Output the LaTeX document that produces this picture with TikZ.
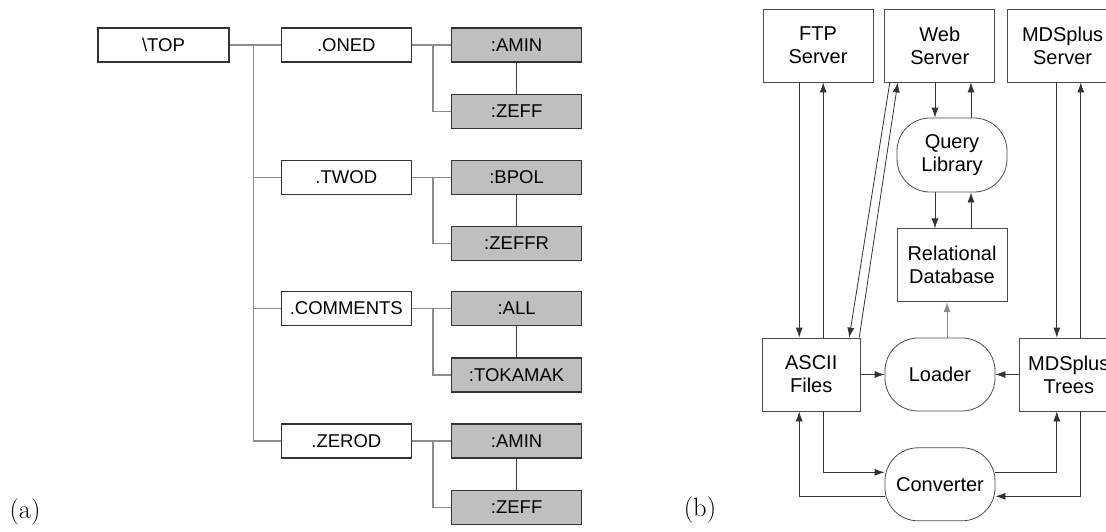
\documentclass[tikz,border=0pt]{standalone}
\usepackage{fontspec}
\newfontfamily\fuente{Liberation Sans}
\usetikzlibrary{
	arrows.meta,
	positioning,
	calc
}

\begin{document}
\begin{tikzpicture}[x=1pt, y=-1pt,
  nodo/.style={rectangle, draw=black!80, line width=1.3pt, fill=white,
    minimum width=130pt, minimum height=34pt, inner sep=0pt,
    font=\fuente\fontsize{18.5}{20}\selectfont},
  hoja/.style={nodo, fill=black!25},
  rama/.style={draw=black!45, line width=1.4pt},
  enlace/.style={draw=black!75, line width=1.1pt},
  caja/.style={rectangle, draw=black!70, line width=0.8pt, align=center,
    minimum width=110pt, minimum height=73pt, inner sep=0pt,
    font=\fuente\fontsize{20}{23}\selectfont},
  ovalo/.style={caja, rounded corners=33pt},
  flecha/.style={-{Latex[length=10pt, width=7pt]}, draw=black!80, line width=0.8pt}
]
\useasboundingbox (0,0) rectangle (1106,531);

% (a) arbol
\node[nodo, minimum width=131pt] (top) at (163.5,45) {\textbackslash TOP};
\node[nodo, right=51pt of top] (oned) {.ONED};
\node[nodo, below=97pt of oned] (twod) {.TWOD};
\node[nodo, below=96pt of twod] (comments) {.COMMENTS};
\node[nodo, below=97pt of comments] (zerod) {.ZEROD};
\node[hoja, right=39pt of oned] (amin1) {:AMIN};
\node[hoja, below=31pt of amin1] (zeff1) {:ZEFF};
\node[hoja, right=39pt of twod] (bpol) {:BPOL};
\node[hoja, below=31pt of bpol] (zeffr) {:ZEFFR};
\node[hoja, right=39pt of comments] (all) {:ALL};
\node[hoja, below=31pt of all] (tokamak) {:TOKAMAK};
\node[hoja, right=39pt of zerod] (amin2) {:AMIN};
\node[hoja, below=31pt of amin2] (zeff2) {:ZEFF};

\coordinate (tronco) at ($(top.east)+(24,0)$);
\draw[rama] (top) -- (oned);
\draw[rama] (tronco) |- (zerod);
\foreach \n in {twod, comments}
  \draw[rama] (tronco |- \n) -- (\n);
\foreach \p/\a/\b in {oned/amin1/zeff1, twod/bpol/zeffr, comments/all/tokamak, zerod/amin2/zeff2} {
  \draw[rama] (\p) -- (\a);
  \draw[rama] ($(\p.east)+(21,0)$) |- (\b);
  \draw[enlace] (\a) -- (\b);
}

% (b) flujo de datos
\node[caja] (ftp) at (818,45.5) {FTP\\Server};
\node[caja, right=11pt of ftp] (web) {Web\\Server};
\node[caja, right=12pt of web] (mdsserver) {MDSplus\\Server};
\node[ovalo, minimum height=74pt] (query) at (952,155) {Query\\Library};
\node[caja, below=36pt of query] (relational) {Relational\\Database};
\node[ovalo] (loader) at (940,374.5) {Loader};
\node[ovalo, below=36pt of loader] (converter) {Converter};
\node[caja, minimum width=98pt, left=24pt of loader] (ascii) {ASCII\\Files};
\node[caja, minimum width=98pt, right=24pt of loader] (trees) {MDSplus\\Trees};

\draw[flecha] ([xshift=-12]ascii.north |- ftp.south) -- ([xshift=-12]ascii.north);
\draw[flecha] ([xshift=12]ascii.north) -- ([xshift=12]ascii.north |- ftp.south);
\draw[flecha] ([xshift=-50]web.south) -- ([xshift=38]ascii.north);
\draw[flecha] ([xshift=48]ascii.north) -- ([xshift=-42]web.south);
\draw[flecha] ([xshift=-17]query.north |- web.south) -- ([xshift=-17]query.north);
\draw[flecha] ([xshift=19]query.north) -- ([xshift=19]query.north |- web.south);
\draw[flecha] ([xshift=-17]query.south) -- ([xshift=-17]query.south |- relational.north);
\draw[flecha] ([xshift=19]query.south |- relational.north) -- ([xshift=19]query.south);
\draw[flecha, draw=black!45] ([xshift=7]loader.north) -- ([xshift=7]loader.north |- relational.south);
\draw[flecha] (ascii) -- (loader);
\draw[flecha] (trees) -- (loader);
\draw[flecha] ([xshift=-12]trees.north |- mdsserver.south) -- ([xshift=-12]trees.north);
\draw[flecha] ([xshift=12]trees.north) -- ([xshift=12]trees.north |- mdsserver.south);
\draw[flecha] ([xshift=12]ascii.south) |- ([yshift=12]converter.west);
\draw[flecha] ([yshift=-12]converter.west) -| ([xshift=-12]ascii.south);
\draw[flecha] ([yshift=12]converter.east) -| ([xshift=-12]trees.south);
\draw[flecha] ([xshift=12]trees.south) |- ([yshift=-12]converter.east);

% etiquetas
\node[font=\fontsize{26.5}{30}\selectfont] (etqa) at (25,512) {(a)};
\node[font=\fontsize{26.5}{30}\selectfont] (etqb) at (700,510) {(b)};
\end{tikzpicture}
\end{document}
